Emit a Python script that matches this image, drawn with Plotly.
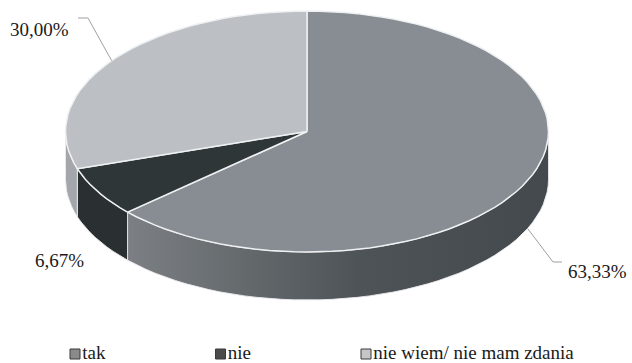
import numpy as np
import plotly.graph_objects as go

# ---- data ----
categories = ["tak", "nie", "nie wiem/ nie mam zdania"]
shares = [63.33, 6.67, 30.00]

# ---- styling ----
top_colors = ["#888d93", "#2f3638", "#bcc0c5"]
side_colors = ["#5a6064", "#2a3032", "#a3a7ab"]
legend_colors = ["#8a8a8a", "#4b4b4b", "#c6c6c6"]
FONT = "Times New Roman, serif"

W, H = 632, 363
CX, CY = 307.0, 131.5      # centre of the top ellipse (px)
RX, RY = 241.5, 120.5      # radii of the top ellipse (px)
DEPTH = 48.0               # thickness of the disc (px)

# label boxes (px) and the elbow of each leader line
label_anchor = [(566, 271, "left"), (59, 260, "center"), (71, 29, "right")]
leader_elbow = [[(553, 262), (562, 262)], None, [(88, 18), (78, 18)]]

legend_y = 354
legend_x0, legend_step = 75, 145.5


def ellipse_pts(a0, a1, dy=0.0, n=120):
    th = np.radians(np.linspace(a0, a1, max(2, int(n * abs(a1 - a0) / 360) + 2)))
    return CX + RX * np.sin(th), CY - RY * np.cos(th) + dy


fig = go.Figure()

total = sum(shares)
bounds = np.concatenate([[0], np.cumsum(shares) / total * 360])

# side walls (only the front half, 90..270 deg, is visible)
for i in range(len(shares)):
    a0, a1 = max(bounds[i], 90), min(bounds[i + 1], 270)
    if a1 <= a0:
        continue
    xt, yt = ellipse_pts(a0, a1)
    xb, yb = ellipse_pts(a1, a0, DEPTH)
    xs = np.concatenate([xt, xb, xt[:1]])
    ys = np.concatenate([yt, yb, yt[:1]])
    kw = dict(fillcolor=side_colors[i])
    if i == 0:
        kw = dict(fillgradient=dict(
            type="horizontal",
            colorscale=[[0, "#7c8084"], [0.55, "#4d5356"], [1, "#43494c"]]))
    fig.add_trace(go.Scatter(x=xs, y=ys, mode="lines", fill="toself",
                             line=dict(color="rgba(235,235,240,0.9)", width=1),
                             hoverinfo="skip", showlegend=False, **kw))

# top faces
for i in range(len(shares)):
    xa, ya = ellipse_pts(bounds[i], bounds[i + 1])
    xs = np.concatenate([[CX], xa, [CX]])
    ys = np.concatenate([[CY], ya, [CY]])
    fig.add_trace(go.Scatter(x=xs, y=ys, mode="lines", fill="toself",
                             fillcolor=top_colors[i],
                             line=dict(color="#eef0f2", width=1.5),
                             hoverinfo="skip", showlegend=False))

# percentage labels and leader lines
for i, v in enumerate(shares):
    mid = (bounds[i] + bounds[i + 1]) / 2
    lab = f"{v:.2f}".replace(".", ",") + "%"
    if leader_elbow[i] is not None:
        visible_side = 90 <= mid <= 270
        px, py = ellipse_pts(mid, mid, DEPTH if visible_side else 0.0, n=2)
        lx = [px[0]] + [p[0] for p in leader_elbow[i]]
        ly = [py[0]] + [p[1] for p in leader_elbow[i]]
        fig.add_trace(go.Scatter(x=lx, y=ly, mode="lines",
                                 line=dict(color="#a0a0a0", width=1),
                                 hoverinfo="skip", showlegend=False))
    ax, ay, align = label_anchor[i]
    fig.add_annotation(x=ax, y=ay, text=lab, showarrow=False,
                       xanchor=align, yanchor="middle",
                       font=dict(family=FONT, size=19, color="#1a1a1a"))

# legend row
for i, name in enumerate(categories):
    fig.add_trace(go.Scatter(
        x=[legend_x0 + i * legend_step], y=[legend_y], mode="markers+text",
        marker=dict(symbol="square", size=10, color=legend_colors[i],
                    line=dict(color="#3a3a3a", width=1)),
        text=[name], textposition="middle right",
        textfont=dict(family=FONT, size=19, color="#1a1a1a"),
        hoverinfo="skip", showlegend=False))

fig.update_layout(
    width=W, height=H,
    margin=dict(l=0, r=0, t=0, b=0),
    font=dict(family=FONT),
    paper_bgcolor="white", plot_bgcolor="white",
    xaxis=dict(range=[0, W], visible=False, fixedrange=True),
    yaxis=dict(range=[H, 0], visible=False, fixedrange=True),
    showlegend=False,
)

fig.write_html("out.html")
